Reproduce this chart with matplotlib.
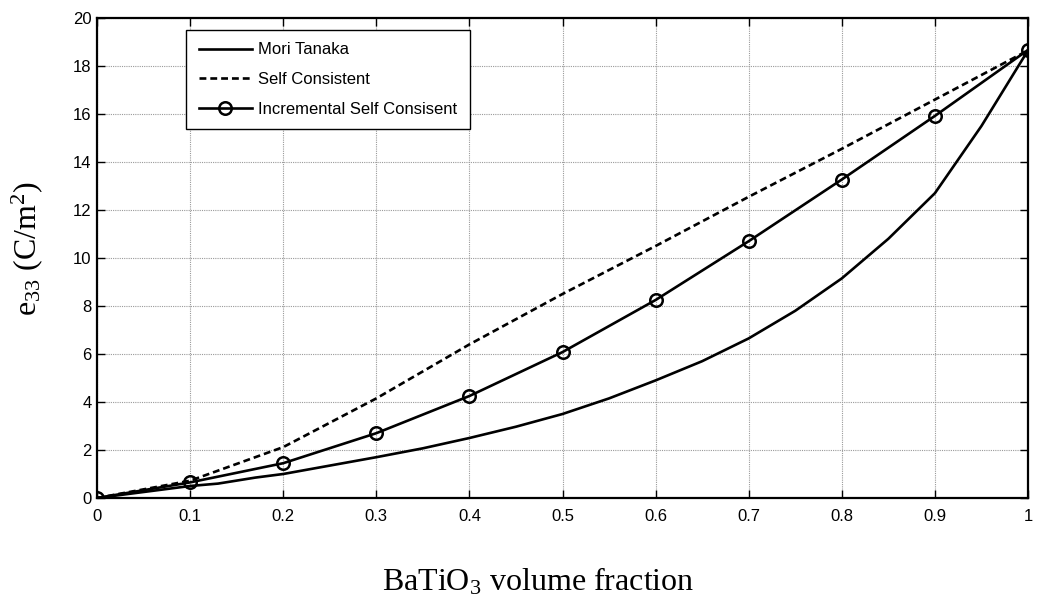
import numpy as np
import matplotlib
matplotlib.use("Agg")
import matplotlib.pyplot as plt

# ------------------------------
# Data
# ------------------------------
vf_mt = [0, 0.05, 0.1, 0.13, 0.17, 0.2, 0.25, 0.3, 0.35, 0.4, 0.45, 0.5,
         0.55, 0.6, 0.65, 0.7, 0.75, 0.8, 0.85, 0.9, 0.95, 1.0]
e33_mt = [0, 0.25, 0.5, 0.6, 0.85, 1.0, 1.35, 1.7, 2.07, 2.5, 2.97, 3.5,
          4.15, 4.9, 5.7, 6.65, 7.8, 9.15, 10.8, 12.7, 15.5, 18.65]

vf = [0, 0.1, 0.2, 0.3, 0.4, 0.5, 0.6, 0.7, 0.8, 0.9, 1.0]
e33_sc = [0, 0.72, 2.12, 4.15, 6.4, 8.5, 10.5, 12.55, 14.55, 16.6, 18.65]
e33_isc = [0, 0.65, 1.45, 2.7, 4.25, 6.08, 8.25, 10.7, 13.27, 15.92, 18.67]

labels = ["Mori Tanaka", "Self Consistent", "Incremental Self Consisent"]

# ------------------------------
# Style
# ------------------------------
plt.rcParams["font.family"] = ["Liberation Sans", "DejaVu Sans"]
plt.rcParams["mathtext.fontset"] = "custom"
plt.rcParams["mathtext.rm"] = "Liberation Serif"
plt.rcParams["mathtext.it"] = "Liberation Serif:italic"

fig = plt.figure(figsize=(10.37, 6.04), dpi=100)
ax = fig.add_axes([97 / 1037, 1 - 498 / 604, 931 / 1037, 480 / 604])

lw = 1.9
ax.plot(vf_mt, e33_mt, color="black", lw=lw, label=labels[0])
ax.plot(vf, e33_sc, color="black", lw=lw, linestyle=(0, (2.6, 1.5)), label=labels[1])
ax.plot(vf, e33_isc, color="black", lw=lw, marker="o", markersize=9,
        markerfacecolor="none", markeredgewidth=1.8, label=labels[2])

ax.set_xlim(0, 1)
ax.set_ylim(0, 20)
ax.set_xticks(np.arange(0, 1.01, 0.1))
ax.set_xticklabels(["0", "0.1", "0.2", "0.3", "0.4", "0.5", "0.6", "0.7", "0.8", "0.9", "1"])
ax.set_yticks(np.arange(0, 21, 2))

ax.grid(True, color="#9a9a9a", linestyle=(0, (1, 1)), linewidth=0.8)
ax.set_axisbelow(True)
ax.tick_params(direction="in", length=6, width=1.0, top=True, right=True,
               labelsize=12, colors="black")
ax.tick_params(axis="x", pad=8)
ax.tick_params(axis="y", pad=4)
for s in ax.spines.values():
    s.set_linewidth(1.6)

ax.set_xlabel(r"BaTiO$_3$ volume fraction", family="Liberation Serif", fontsize=23)
ax.xaxis.set_label_coords((538 - 97) / 931, -(566 - 498) / 480)
ax.set_ylabel(r"e$_{33}$ (C/m$^2$)", family="Liberation Serif", fontsize=23)
ax.yaxis.set_label_coords(-(97 - 45) / 931, 0.52)

leg = ax.legend(loc="upper left", bbox_to_anchor=((186 - 97) / 931, (498 - 30) / 480),
                borderaxespad=0, fontsize=12, handlelength=3.2, handletextpad=0.4,
                labelspacing=0.88, borderpad=0.75, fancybox=False, framealpha=1,
                edgecolor="black")
leg.get_frame().set_linewidth(1.0)

plt.savefig("out.png", dpi=100)
plt.close()
